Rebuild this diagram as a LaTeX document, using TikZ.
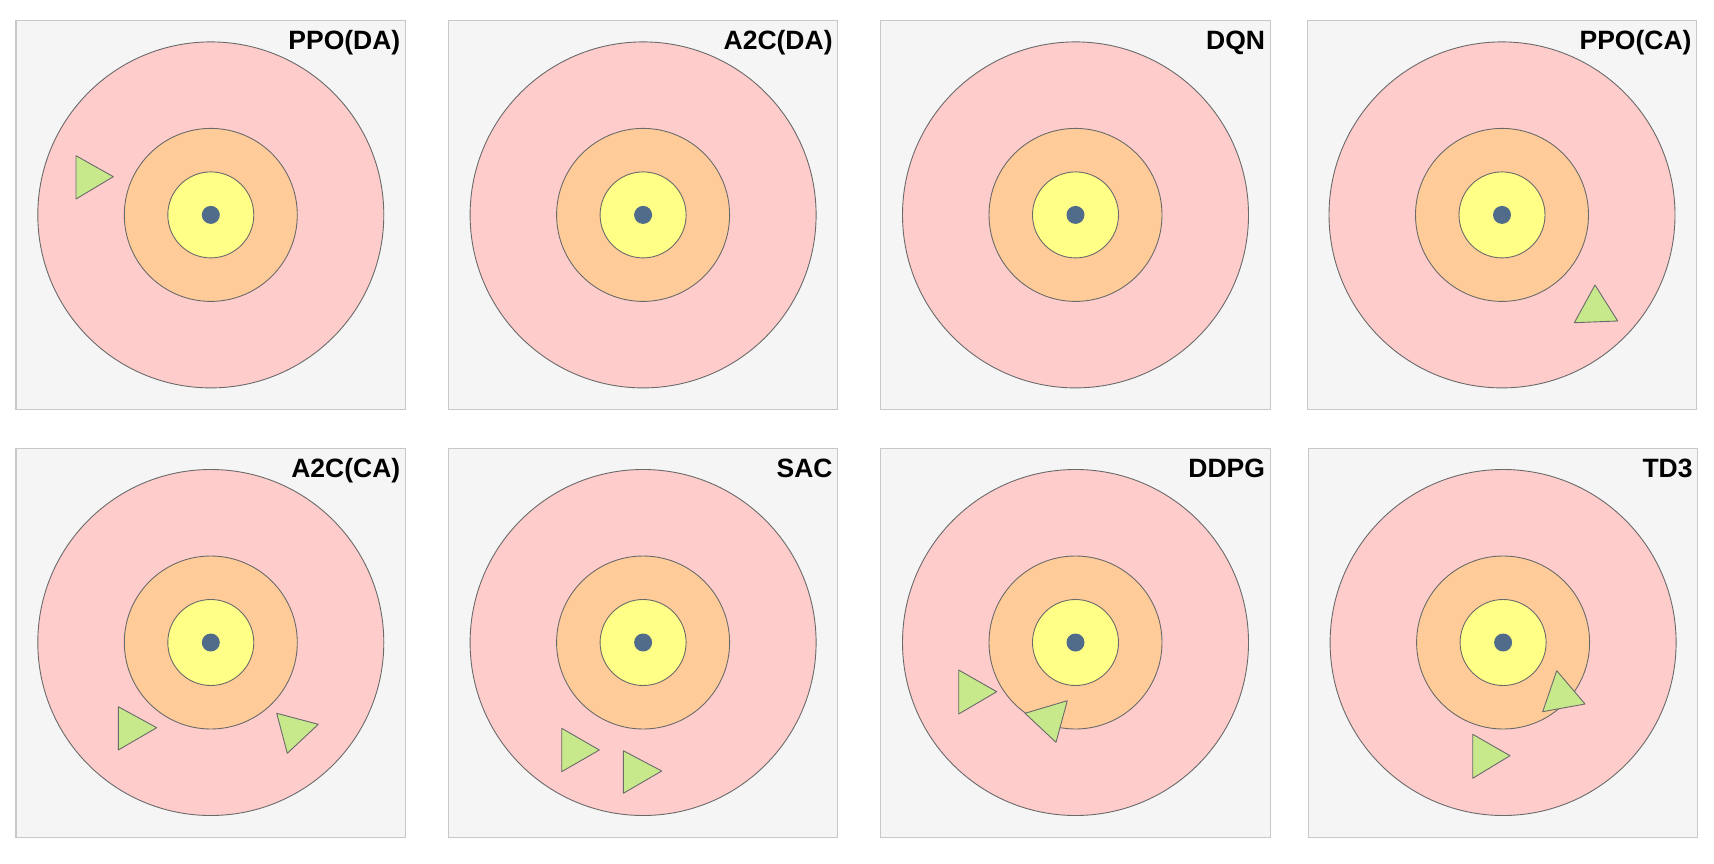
\documentclass[tikz,border=0pt]{standalone}
\usepackage{fontspec}
\setmainfont{Liberation Sans}
\definecolor{boxfill}{HTML}{F5F5F5}
\definecolor{boxline}{HTML}{C8C8C8}
\definecolor{ringA}{HTML}{FFCCCC}
\definecolor{ringB}{HTML}{FFCC99}
\definecolor{ringC}{HTML}{FFFF88}
\definecolor{dotc}{HTML}{506C8A}
\definecolor{trig}{HTML}{C8E88C}
\definecolor{edge}{HTML}{6A6A6A}
\begin{document}
\begin{tikzpicture}[x=1pt,y=-1pt,
  panel/.style={fill=boxfill,draw=boxline,line width=1.2pt},
  ring/.style={draw=edge,line width=0.9pt},
  agent/.style={fill=trig,draw=edge,line width=0.9pt,line join=round},
  title/.style={anchor=base east,inner sep=0pt,font=\fontsize{26.5}{30}\selectfont\bfseries}]
\useasboundingbox (0,0) rectangle (1714,864);
\foreach \x/\y/\t [count=\i] in {16/20.7/PPO(DA), 448.3/20.7/A2C(DA), 880.7/20.7/DQN, 1307.2/20.7/PPO(CA),
  16/448.3/A2C(CA), 448.3/448.3/SAC, 880.7/448.3/DDPG, 1308.3/448.3/TD3}{
  \draw[panel] (\x,\y) rectangle ++(389.5,389);
  \coordinate (c\i) at (\x+194.8,\y+194.2);
  \fill[ringA] (c\i) circle (173);
  \draw[ring] (c\i) circle (173);
  \filldraw[ring,fill=ringB] (c\i) circle (86.5);
  \filldraw[ring,fill=ringC] (c\i) circle (43);
  \fill[dotc] (c\i) circle (9);
  \node[title] (t\i) at (\x+384.5,\y+29) {\t};
}
% agents
\draw[agent] (76,155.7) -- (76,199) -- (113.3,176.7) -- cycle;
\draw[agent] (1595,285) -- (1574.3,322.7) -- (1617.7,321) -- cycle;
\draw[agent] (118.3,706.7) -- (118.3,750) -- (156.7,727.7) -- cycle;
\draw[agent] (276.7,713.3) -- (318.3,724.3) -- (287.3,753.3) -- cycle;
\draw[agent] (561.7,728.3) -- (561.7,771.7) -- (599.3,750) -- cycle;
\draw[agent] (623.3,750.7) -- (623.3,793.3) -- (661.7,771) -- cycle;
\draw[agent] (958.7,670) -- (958.7,714) -- (996.7,691.7) -- cycle;
\draw[agent] (1025,713.3) -- (1067.3,700.7) -- (1056,742.3) -- cycle;
\draw[agent] (1556.7,670.7) -- (1585,704) -- (1542.7,711.7) -- cycle;
\draw[agent] (1472.7,734.3) -- (1472.7,778.3) -- (1510,755.7) -- cycle;
\end{tikzpicture}
\end{document}
